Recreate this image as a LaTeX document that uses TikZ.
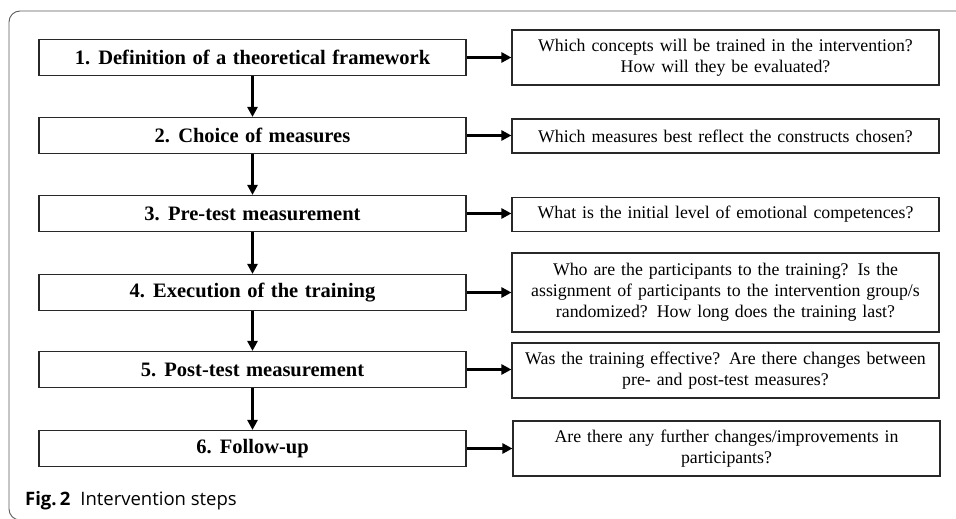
\documentclass[tikz,border=0pt]{standalone}
\usepackage{fontspec}
\setmainfont{Liberation Serif}
\newfontfamily\capfont{Open Sans}
\usepackage{tikz}
\usetikzlibrary{arrows.meta, positioning, calc}
\definecolor{framegray}{RGB}{90,90,90}
\definecolor{boxline}  {RGB}{40,40,40}
\newcommand{\widegaps}{\spaceskip=6.5pt plus 1pt\relax}

\begin{document}
\begin{tikzpicture}[x=1pt,y=1pt,
		stepbox/.style={draw=boxline,line width=1.1pt,minimum width=427pt,minimum height=36pt,inner sep=0pt,font=\fontsize{20.5}{23}\selectfont\bfseries\widegaps},
		askbox/.style={draw=boxline,line width=1.1pt,minimum width=427pt,text width=420pt,align=center,inner sep=0pt,font=\fontsize{17.8}{21}\selectfont},
		flow/.style={line width=3pt,-{Triangle[length=10pt,width=10pt]}}]
				\useasboundingbox (0,0) rectangle (956,519);
				\draw[framegray,line width=0.9pt,rounded corners=11pt] (970,508)--(9,508)--(9,-1)--(970,-1);
				% steps
				\node[stepbox] (s1) at (252.5,461.5) {1. Definition of a theoretical framework};
				\node[stepbox] (s2) at (252.5,383.5) {2. Choice of measures};
				\node[stepbox] (s3) at (252.5,305.5) {3. Pre-test measurement};
				\node[stepbox] (s4) at (252.5,226.5) {4. Execution of the training};
				\node[stepbox] (s5) at (252.5,149.5) {5. Post-test measurement};
				\node[stepbox] (s6) at (252.5,70.5) {6. Follow-up};
				% questions
				\node[askbox,minimum height=55pt] (q1) at (725.5,461.5) {Which concepts will be trained in the intervention?\\How will they be evaluated?};
				\node[askbox,minimum height=34pt] (q2) at (725.5,383) {Which measures best reflect the constructs chosen?};
				\node[askbox,minimum height=34pt] (q3) at (725.5,304.5) {What is the initial level of emotional competences?};
				\node[askbox,minimum height=79pt] (q4) at (725.5,226.5) {Who are the participants to the training? Is the\\assignment of participants to the intervention group/s\\randomized? How long does the training last?};
				\node[askbox,minimum height=55pt] (q5) at (725.5,148.5) {Was the training effective? Are there changes between\\pre- and post-test measures?};
				\node[askbox,minimum height=55pt] (q6) at (726.5,70.5) {Are there any further changes/improvements in\\participants?};
				\draw[flow] (s1)--(s2);
				\draw[flow] (s2)--(s3);
				\draw[flow] (s3)--(s4);
				\draw[flow] (s4)--(s5);
				\draw[flow] (s5)--(s6);
				\draw[flow] (s1.east)--(s1.east -| q1.west);
				\draw[flow] (s2.east)--(s2.east -| q2.west);
				\draw[flow] (s3.east)--(s3.east -| q3.west);
				\draw[flow] (s4.east)--(s4.east -| q4.west);
				\draw[flow] (s5.east)--(s5.east -| q5.west);
				\draw[flow] (s6.east)--(s6.east -| q6.west);
				\node[anchor=base west,inner sep=0pt,font=\capfont\fontsize{18.5}{21}\selectfont] (cap) at (25,13.7) {\textbf{Fig.\,2}\hspace{10pt}Intervention steps};
			\end{tikzpicture}
\end{document}
